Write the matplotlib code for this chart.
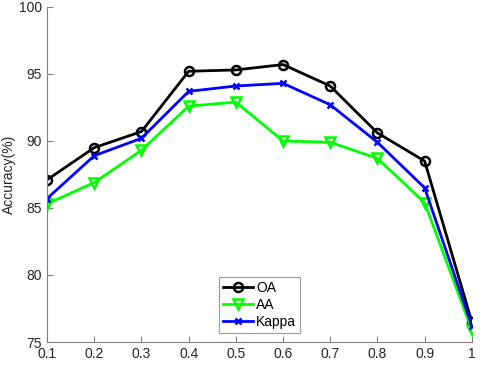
import numpy as np
import matplotlib.pyplot as plt

x = [0.1, 0.2, 0.3, 0.4, 0.5, 0.6, 0.7, 0.8, 0.9, 1.0]
oa = [87.1, 89.5, 90.7, 95.2, 95.3, 95.7, 94.1, 90.6, 88.5, 76.5]
aa = [85.3, 86.9, 89.3, 92.6, 92.9, 90.0, 89.9, 88.7, 85.4, 75.9]
kappa = [85.7, 88.9, 90.2, 93.7, 94.1, 94.3, 92.7, 89.9, 86.5, 76.2]
xticks = [0.1, 0.2, 0.3, 0.4, 0.5, 0.6, 0.7, 0.8, 0.9, 1]
xticklabels = ['0.1', '0.2', '0.3', '0.4', '0.5', '0.6', '0.7', '0.8', '0.9', '1']

plt.rcParams['font.family'] = 'Liberation Sans'

fig = plt.figure(figsize=(4.8, 3.65), dpi=100)
ax = fig.add_axes([0.098, 0.063, 0.885, 0.918])

ax.plot(x, oa, color='black', lw=2, marker='o', ms=6.5, mfc='none', mew=1.8, label='OA')
ax.plot(x, aa, color='#00ff00', lw=2, marker='v', ms=7, mfc='none', mew=1.8, label='AA')
ax.plot(x, kappa, color='blue', lw=2, marker='x', ms=4.5, mew=1.8, label='Kappa')

ax.set_xlim(0.1, 1)
ax.set_ylim(75, 100)
ax.set_xticks(xticks)
ax.set_xticklabels(xticklabels)
ax.set_yticks([75, 80, 85, 90, 95, 100])
ax.set_ylabel('Accuracy(%)', fontsize=10, color='#262626', labelpad=2)

for s in ['top', 'right']:
    ax.spines[s].set_visible(False)
for s in ['left', 'bottom']:
    ax.spines[s].set_color('#808080')
ax.tick_params(direction='in', length=4, color='#808080', labelsize=10, labelcolor='#262626')

leg = ax.legend(loc='lower center', bbox_to_anchor=(0.5, 0.027), borderaxespad=0,
                fancybox=False, edgecolor='#808080', fontsize=10, handlelength=2.2,
                borderpad=0.3, labelspacing=0.2, handletextpad=0.2)
leg.get_frame().set_linewidth(0.8)

fig.savefig('out.png', dpi=100)
